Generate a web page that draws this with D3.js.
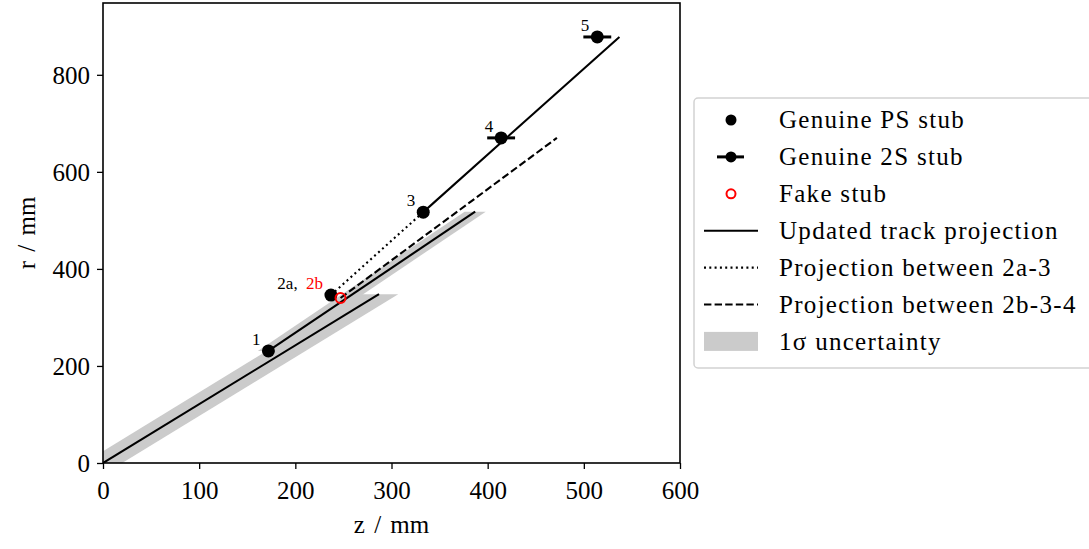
<!DOCTYPE html>
<html>
<head>
<meta charset="utf-8">
<script src="https://cdn.jsdelivr.net/npm/d3@7/dist/d3.min.js"></script>
<style>
  body { margin: 0; background: #fff; }
  svg text { font-family: "Liberation Serif", "Times New Roman", serif; fill: #000; }
</style>
</head>
<body>
<div id="chart"></div>
<script>
// stubs (z, r) in mm
const psStubs = [[172, 231], [237, 346], [333, 517]];
const twoSStubs = [[414, 670], [514, 878]];
const twoSErrZ = [14.5, 14.5];
const fakeStubs = [[247, 340]];
const stubLabels = ["1", "2a", "3", "4", "5"];
const fakeLabels = ["2b"];

// projections
const trackProjections = [
    [[0, 0], [287, 348]],
    [[172, 231], [387, 518]],
    [[333, 517], [537, 878]]
];
const dottedProjection = [[237, 346], [333, 517]];
const dashedProjection = [[247, 340], [472, 670]];

// 1 sigma bands: track index and half width in z
const bandTracks = [0, 1];
const bandHalfWidth = [20, 11];

const xTicks = [0, 100, 200, 300, 400, 500, 600];
const yTicks = [0, 200, 400, 600, 800];

const legendLabels = [
    "Genuine PS stub",
    "Genuine 2S stub",
    "Fake stub",
    "Updated track projection",
    "Projection between 2a-3",
    "Projection between 2b-3-4",
    "1\u03c3 uncertainty"
];

const WIDTH = 1089, HEIGHT = 549;
const PLOT = { left: 103, right: 680, top: 3, bottom: 463 };

const svg = d3.select("#chart").append("svg")
    .attr("width", WIDTH)
    .attr("height", HEIGHT);

const x = d3.scaleLinear().domain([0, 600]).range([PLOT.left, PLOT.right]);
const y = d3.scaleLinear().domain([0, 948]).range([PLOT.bottom, PLOT.top]);

svg.append("clipPath").attr("id", "plotclip")
    .append("rect")
    .attr("x", PLOT.left).attr("y", PLOT.top)
    .attr("width", PLOT.right - PLOT.left)
    .attr("height", PLOT.bottom - PLOT.top);

const plot = svg.append("g").attr("clip-path", "url(#plotclip)");

// bands
bandTracks.forEach((ti, i) => {
    const t = trackProjections[ti];
    const w = bandHalfWidth[i];
    const poly = [
        [t[0][0] - w, t[0][1]], [t[1][0] - w, t[1][1]],
        [t[1][0] + w, t[1][1]], [t[0][0] + w, t[0][1]]
    ];
    plot.append("path")
        .attr("d", d3.line().x(d => x(d[0])).y(d => y(d[1]))(poly) + "Z")
        .attr("fill", "#cbcbcb")
        .attr("stroke", "none");
});

const line = d3.line().x(d => x(d[0])).y(d => y(d[1]));

plot.selectAll(".track")
    .data(trackProjections)
    .enter()
    .append("path")
    .attr("d", line)
    .attr("fill", "none")
    .attr("stroke", "#000")
    .attr("stroke-width", 2.1);

plot.append("path")
    .attr("d", line(dottedProjection))
    .attr("fill", "none")
    .attr("stroke", "#000")
    .attr("stroke-width", 2.1)
    .attr("stroke-dasharray", "2,3.3");

plot.append("path")
    .attr("d", line(dashedProjection))
    .attr("fill", "none")
    .attr("stroke", "#000")
    .attr("stroke-width", 2.1)
    .attr("stroke-dasharray", "7.4,3.2");

// stubs
plot.selectAll(".ps")
    .data(psStubs)
    .enter()
    .append("circle")
    .attr("cx", d => x(d[0]))
    .attr("cy", d => y(d[1]))
    .attr("r", 6.5)
    .attr("fill", "#000");

twoSStubs.forEach((d, i) => {
    plot.append("line")
        .attr("x1", x(d[0] - twoSErrZ[i]))
        .attr("x2", x(d[0] + twoSErrZ[i]))
        .attr("y1", y(d[1])).attr("y2", y(d[1]))
        .attr("stroke", "#000")
        .attr("stroke-width", 3);
    plot.append("circle")
        .attr("cx", x(d[0]))
        .attr("cy", y(d[1]))
        .attr("r", 6.5)
        .attr("fill", "#000");
});

plot.selectAll(".fake")
    .data(fakeStubs)
    .enter()
    .append("circle")
    .attr("cx", d => x(d[0]))
    .attr("cy", d => y(d[1]))
    .attr("r", 5)
    .attr("fill", "none")
    .attr("stroke", "red")
    .attr("stroke-width", 2);

// stub labels
const genuine = psStubs.concat(twoSStubs);
genuine.forEach((d, i) => {
    const t = svg.append("text")
        .attr("x", x(d[0]) - 8)
        .attr("y", y(d[1]) - 6)
        .attr("text-anchor", "end")
        .attr("font-size", 17);
    if (stubLabels[i] === "2a") {
        t.append("tspan").text(stubLabels[i] + ", ");
        t.append("tspan").attr("dx", 4).style("fill", "red").text(fakeLabels[0]);
    } else {
        t.text(stubLabels[i]);
    }
});

// axes frame
svg.append("rect")
    .attr("x", PLOT.left).attr("y", PLOT.top)
    .attr("width", PLOT.right - PLOT.left)
    .attr("height", PLOT.bottom - PLOT.top)
    .attr("fill", "none")
    .attr("stroke", "#000")
    .attr("stroke-width", 1.6);

const xAxis = svg.append("g")
    .attr("transform", "translate(0," + PLOT.bottom + ")")
    .call(d3.axisBottom(x).tickValues(xTicks).tickSize(6).tickPadding(10));
const yAxis = svg.append("g")
    .attr("transform", "translate(" + PLOT.left + ",0)")
    .call(d3.axisLeft(y).tickValues(yTicks).tickSize(6).tickPadding(7));

[xAxis, yAxis].forEach(a => {
    a.select(".domain").remove();
    a.selectAll(".tick line").attr("stroke", "#000").attr("stroke-width", 1.3);
    a.selectAll(".tick text")
        .attr("font-family", "Liberation Serif")
        .attr("font-size", 25)
        .attr("fill", "#000");
});
xAxis.selectAll(".tick text").attr("dy", "0.8em");
yAxis.selectAll(".tick text").attr("dy", "0.33em");

svg.append("text")
    .attr("x", (PLOT.left + PLOT.right) / 2)
    .attr("y", 533)
    .attr("text-anchor", "middle")
    .attr("font-size", 25)
    .style("word-spacing", "3px")
    .text("z / mm");

svg.append("text")
    .attr("transform", "translate(35," + ((PLOT.top + PLOT.bottom) / 2) + ") rotate(-90)")
    .attr("text-anchor", "middle")
    .attr("font-size", 25)
    .style("word-spacing", "3px")
    .text("r / mm");

// legend
const LEG = { x: 694, y: 98, w: 410, h: 270, row0: 120, step: 36.9, hx0: 704, hx1: 758, tx: 779 };
svg.append("rect")
    .attr("x", LEG.x).attr("y", LEG.y)
    .attr("width", LEG.w).attr("height", LEG.h)
    .attr("rx", 4)
    .attr("fill", "#fff")
    .attr("stroke", "#d2d2d2")
    .attr("stroke-width", 1.5);

const hc = (LEG.hx0 + LEG.hx1) / 2;
legendLabels.forEach((lab, i) => {
    const cy = LEG.row0 + i * LEG.step;
    const g = svg.append("g");
    if (i === 0) {
        g.append("circle").attr("cx", hc).attr("cy", cy).attr("r", 5.5).attr("fill", "#000");
    } else if (i === 1) {
        g.append("line").attr("x1", hc - 14).attr("x2", hc + 13).attr("y1", cy).attr("y2", cy)
            .attr("stroke", "#000").attr("stroke-width", 3);
        g.append("circle").attr("cx", hc).attr("cy", cy).attr("r", 5.5).attr("fill", "#000");
    } else if (i === 2) {
        g.append("circle").attr("cx", hc).attr("cy", cy).attr("r", 4.5)
            .attr("fill", "none").attr("stroke", "red").attr("stroke-width", 2);
    } else if (i >= 3 && i <= 5) {
        const dash = [null, "2,3.3", "7.4,3.2"][i - 3];
        g.append("line").attr("x1", LEG.hx0).attr("x2", LEG.hx1).attr("y1", cy).attr("y2", cy)
            .attr("stroke", "#000").attr("stroke-width", 2.1)
            .attr("stroke-dasharray", dash);
    } else {
        g.append("rect").attr("x", LEG.hx0).attr("y", cy - 9.5)
            .attr("width", LEG.hx1 - LEG.hx0).attr("height", 19)
            .attr("fill", "#cbcbcb");
    }
    g.append("text")
        .attr("x", LEG.tx)
        .attr("y", cy)
        .attr("dy", "0.33em")
        .attr("font-size", 25)
        .style("letter-spacing", "1.3px")
        .text(lab);
});
</script>
</body>
</html>
